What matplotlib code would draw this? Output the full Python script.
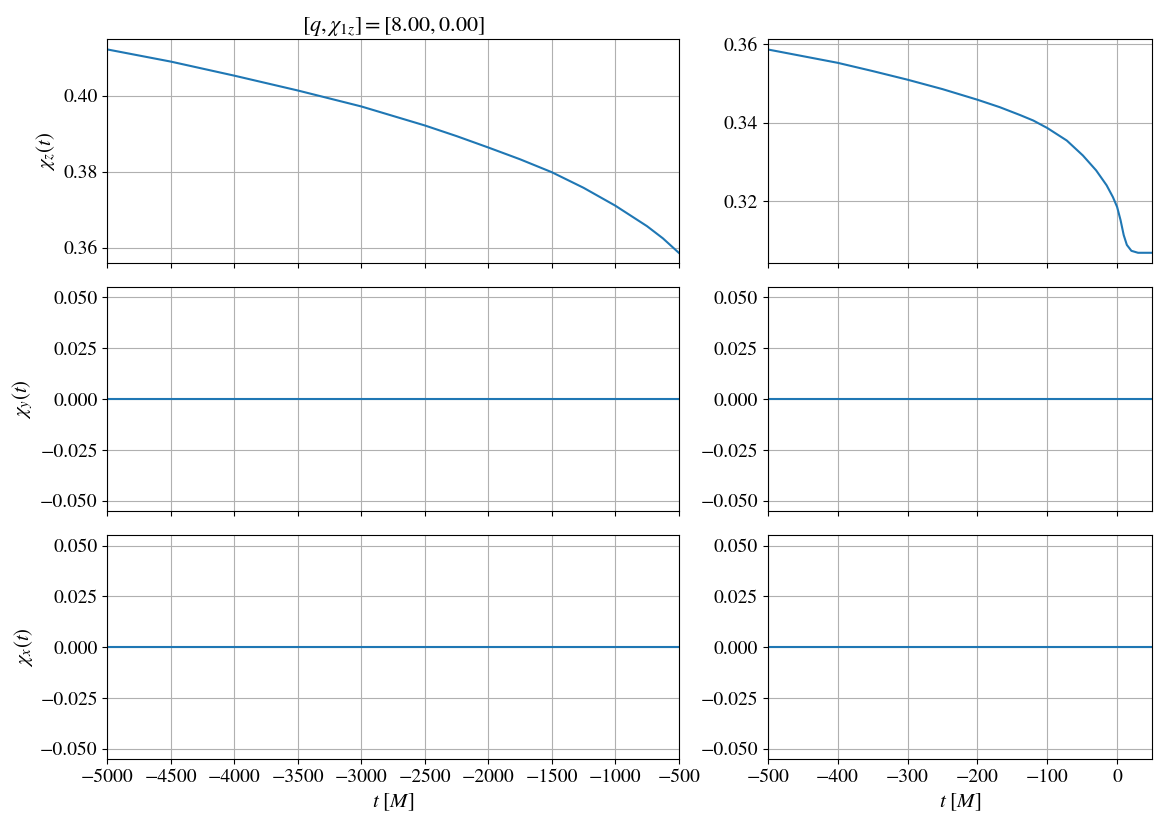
"""Spin components chi_x, chi_y, chi_z over time for one binary."""

import matplotlib

matplotlib.use("Agg")
import matplotlib.pyplot as plt
import numpy as np

# values
q_val = 8.00
chi1z_val = 0.00

t_early = [-5000, -4500, -4000, -3500, -3000, -2750, -2500, -2250, -2000, -1750,
           -1500, -1250, -1000, -750, -625, -500]
chiz_early = [0.4122, 0.4090, 0.4053, 0.4014, 0.3972, 0.3947, 0.3922, 0.3894, 0.3864, 0.3833,
              0.3799, 0.3758, 0.3711, 0.3657, 0.3625, 0.3587]

t_late = [-500, -450, -400, -350, -300, -250, -200, -168, -139, -120, -100, -72, -49, -30,
          -15, -6, 0, 5, 9.5, 14, 20.5, 30, 50]
chiz_late = [0.3587, 0.3570, 0.3553, 0.3532, 0.3510, 0.3486, 0.3459, 0.3440, 0.3420, 0.3406,
             0.3387, 0.3355, 0.3317, 0.3279, 0.3241, 0.3211, 0.3186, 0.3152, 0.3114, 0.3089,
             0.3074, 0.3069, 0.3069]

t_flat = [-5000, 50]
chiy_vals = [0.0, 0.0]
chix_vals = [0.0, 0.0]

plt.rcParams["font.family"] = "STIXGeneral"
plt.rcParams["mathtext.fontset"] = "stix"
plt.rcParams["font.size"] = 14

fig = plt.figure(figsize=(11.62, 8.24), dpi=100)
gs = fig.add_gridspec(3, 2, width_ratios=[571, 384],
                      left=0.0925, right=0.9914, top=0.9523, bottom=0.0789,
                      wspace=0.1864, hspace=0.109)
axes = np.empty((3, 2), dtype=object)
for c in range(2):
    for r in range(3):
        axes[r, c] = fig.add_subplot(gs[r, c], sharex=axes[0, c] if r else None)

axes[0, 0].plot(t_early, chiz_early, color="C0")
axes[0, 1].plot(t_late, chiz_late, color="C0")
for c in range(2):
    axes[1, c].plot(t_flat, chiy_vals, color="C0")
    axes[2, c].plot(t_flat, chix_vals, color="C0")

axes[0, 0].set_ylabel(r"$\chi_z(t)$", fontsize=15)
axes[1, 0].set_ylabel(r"$\chi_y(t)$", fontsize=15)
axes[2, 0].set_ylabel(r"$\chi_x(t)$", fontsize=15)
axes[0, 0].set_title(r"$[q, \chi_{1z}] = [%.2f, %.2f]$" % (q_val, chi1z_val), fontsize=16)

for ax in axes.ravel():
    ax.grid(True)
for r in range(2):
    for c in range(2):
        plt.setp(axes[r, c].get_xticklabels(), visible=False)

axes[0, 0].set_xlim(-5000, -500)
axes[0, 1].set_xlim(-500, 50)
axes[2, 0].set_xlabel(r"$t~[M]$", fontsize=15)
axes[2, 1].set_xlabel(r"$t~[M]$", fontsize=15)

fig.savefig("out.png", dpi=100)
